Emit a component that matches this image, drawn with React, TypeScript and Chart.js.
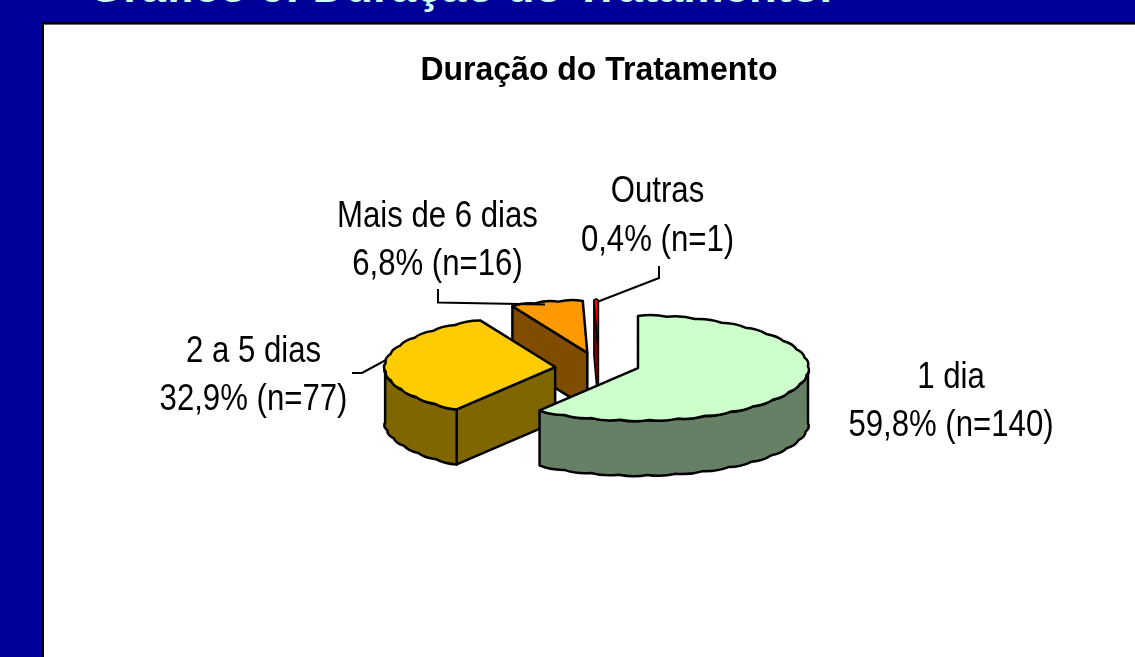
import React, { useEffect, useRef } from "react";
import { Chart, registerables } from "chart.js";

Chart.register(...registerables);

const headerText = "Gráfico 6: Duração do Tratamento.";
const chartTitle = "Duração do Tratamento";
const categories = ["1 dia", "2 a 5 dias", "Mais de 6 dias", "Outras"];
const counts = [140, 77, 16, 1];
const valueLabels = ["59,8% (n=140)", "32,9% (n=77)", "6,8% (n=16)", "0,4% (n=1)"];
const topColors = ["#CCFFCC", "#FFCC00", "#FF9900", "#FF0000"];
const wallColors = ["#668066", "#806600", "#804C00", "#800000"];

const TILT = 52 / 170;
const DEPTH = 55;
const SHIFT_X = -1.5;
const NUDGE_X = [0, 0, 0, 1.5];
const NUDGE_Y = [-1.4, 2.6, 0, -0.2];
const LINE_W = [2.5, 2.5, 2.5, 1.5];
const STEP = (10 * Math.PI) / 180;
const BUMP = 2.4;

const labelLayout = [
  { x: 951, y: 388 },
  { x: 253.5, y: 361.7 },
  { x: 437.5, y: 226.7 },
  { x: 657.5, y: 202.3 },
];
const LINE_GAP = 48.3;
const leaders = [
  null,
  [[352, 373], [362, 373], [386, 360]],
  [[438, 289], [438, 302.5], [545, 304.5]],
  [[659, 266], [659, 278], [597, 302]],
];

const pie3d = {
  id: "pie3d",
  afterLayout(chart: any) {
    const t = chart.titleBlock;
    if (!t || t.__narrow) return;
    t.__narrow = true;
    const drawTitle = t.draw;
    t.draw = function () {
      const ctx = chart.ctx;
      const cx = (t.left + t.right) / 2;
      ctx.save();
      ctx.translate(cx, 0);
      ctx.scale(0.94, 1);
      ctx.translate(-cx, 0);
      drawTitle.call(t);
      ctx.restore();
    };
  },
  beforeDatasetsDraw(chart: any) {
    const ctx = chart.ctx;
    const arcs = chart.getDatasetMeta(0).data;
    ctx.save();
    ctx.lineJoin = "round";
    ctx.strokeStyle = "#000";
    for (let i = arcs.length - 1; i >= 0; i--) {
      const el = arcs[i];
      ctx.lineWidth = LINE_W[i];
      const a0 = el.startAngle;
      const a1 = el.endAngle;
      const r = el.outerRadius;
      const mid = (a0 + a1) / 2;
      const off = (el.options.offset || 0) / 4;
      const cx = el.x + SHIFT_X + NUDGE_X[i] + Math.cos(mid) * off;
      const cy = el.y + NUDGE_Y[i] + TILT * Math.sin(mid) * off;
      const px = (a: number, rr: number) => cx + rr * Math.cos(a);
      const py = (a: number, rr: number, d: number) => cy + TILT * rr * Math.sin(a) + d;
      const trace = (from: number, to: number, d: number) => {
        const n = Math.max(1, Math.ceil(Math.abs(to - from) / STEP));
        const s = (to - from) / n;
        for (let j = 0; j < n; j++) {
          const am = from + s * (j + 0.5);
          const ae = from + s * (j + 1);
          const rc = r / Math.cos(s / 2);
          ctx.quadraticCurveTo(px(am, rc + BUMP), py(am, rc + BUMP / TILT, d), px(ae, r), py(ae, r, d));
        }
      };
      const face = (a: number) => {
        ctx.beginPath();
        ctx.moveTo(cx, cy);
        ctx.lineTo(px(a, r), py(a, r, 0));
        ctx.lineTo(px(a, r), py(a, r, DEPTH));
        ctx.lineTo(cx, cy + DEPTH);
        ctx.closePath();
        ctx.fillStyle = wallColors[i];
        ctx.fill();
        ctx.stroke();
      };
      if (Math.cos(a0) < 0) face(a0);
      if (Math.cos(a1) > 0) face(a1);
      const lo = Math.max(a0, 0);
      const hi = Math.min(a1, Math.PI);
      if (hi > lo) {
        ctx.beginPath();
        ctx.moveTo(px(lo, r), py(lo, r, 0));
        trace(lo, hi, 0);
        ctx.lineTo(px(hi, r), py(hi, r, DEPTH));
        trace(hi, lo, DEPTH);
        ctx.closePath();
        ctx.fillStyle = wallColors[i];
        ctx.fill();
        ctx.stroke();
      }
      ctx.beginPath();
      ctx.moveTo(cx, cy);
      ctx.lineTo(px(a0, r), py(a0, r, 0));
      trace(a0, a1, 0);
      ctx.closePath();
      ctx.fillStyle = topColors[i];
      ctx.fill();
      ctx.stroke();
    }
    ctx.restore();
    return false;
  },
  afterDraw(chart: any) {
    const ctx = chart.ctx;
    ctx.save();
    ctx.lineWidth = 2;
    ctx.strokeStyle = "#000";
    ctx.lineJoin = "miter";
    leaders.forEach((pts) => {
      if (!pts) return;
      ctx.beginPath();
      pts.forEach((p, j) => (j ? ctx.lineTo(p[0], p[1]) : ctx.moveTo(p[0], p[1])));
      ctx.stroke();
    });
    ctx.fillStyle = "#000";
    ctx.font = "36px 'Liberation Sans'";
    ctx.textAlign = "center";
    ctx.textBaseline = "alphabetic";
    categories.forEach((cat, i) => {
      const { x, y } = labelLayout[i];
      [cat, valueLabels[i]].forEach((line, j) => {
        ctx.save();
        ctx.translate(x, y + j * LINE_GAP);
        ctx.scale(0.865, 1);
        ctx.fillText(line, 0, 0);
        ctx.restore();
      });
    });
    ctx.restore();
  },
};

export default function App() {
  const ref = useRef<HTMLCanvasElement>(null);
  useEffect(() => {
    const chart = new Chart(ref.current!, {
      type: "pie",
      data: {
        labels: categories,
        datasets: [
          {
            data: counts,
            backgroundColor: topColors,
            offset: 170,
            radius: 170,
          } as any,
        ],
      },
      options: {
        animation: false,
        responsive: false,
        devicePixelRatio: 1,
        events: [],
        layout: { padding: { left: 63, right: 0, top: 0, bottom: 32.4 } },
        plugins: {
          legend: { display: false },
          tooltip: { enabled: false },
          title: {
            display: true,
            text: chartTitle,
            color: "#000",
            font: { family: "'Liberation Sans'", size: 34, weight: "bold" },
            padding: { top: 49.8, bottom: 15.8 },
          },
        },
      },
      plugins: [pie3d],
    } as any);
    return () => chart.destroy();
  }, []);
  return (
    <div
      style={{
        position: "fixed",
        left: 0,
        top: 0,
        width: 1135,
        height: 657,
        overflow: "hidden",
        background: "#000099",
      }}
    >
      <div
        style={{
          position: "absolute",
          left: 88,
          top: -37.7,
          color: "#CCFFFF",
          font: "bold 45.4px/50px 'Liberation Sans'",
          whiteSpace: "nowrap",
        }}
      >
        {headerText}
      </div>
      <div style={{ position: "absolute", left: 42, top: 22, right: 0, bottom: 0, background: "#000" }} />
      <div style={{ position: "absolute", left: 44, top: 24, right: 0, height: 1, background: "#666" }} />
      <div style={{ position: "absolute", left: 44, top: 25, right: 0, bottom: 0, background: "#fff" }} />
      <canvas ref={ref} width={1135} height={657} style={{ position: "absolute", left: 0, top: 0 }} />
    </div>
  );
}
